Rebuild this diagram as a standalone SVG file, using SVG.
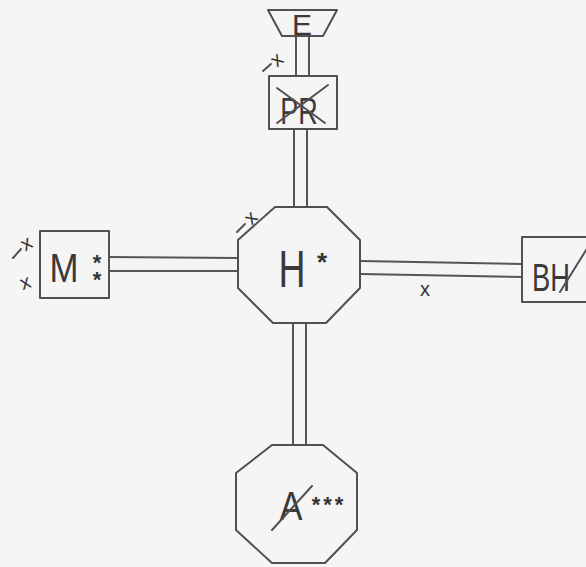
<svg xmlns="http://www.w3.org/2000/svg" width="586" height="567" viewBox="0 0 586 567">
<style>
.s{fill:none;stroke:#505050;stroke-width:2;stroke-linejoin:round;stroke-linecap:round}
.c{fill:none;stroke:#555;stroke-width:2}
.t{font-family:"Liberation Sans",Arial,sans-serif;fill:#3a3a3a;text-anchor:middle}
.x{font-family:"Liberation Sans",Arial,sans-serif;fill:#333;font-size:20px;text-anchor:middle}
.a{font-family:"Liberation Sans",Arial,sans-serif;fill:#333;font-weight:bold;text-anchor:middle}
</style>
<rect width="586" height="567" fill="#f5f5f5"/>
<g id="connectors">
  <line class="c" x1="296" y1="36" x2="296" y2="76"/>
  <line class="c" x1="309" y1="36" x2="309" y2="76"/>
  <line class="c" x1="294" y1="129" x2="294" y2="207"/>
  <line class="c" x1="307" y1="129" x2="307" y2="207"/>
  <line class="c" x1="293" y1="323" x2="293" y2="445"/>
  <line class="c" x1="306" y1="323" x2="306" y2="445"/>
  <line class="c" x1="109" y1="257" x2="238" y2="258"/>
  <line class="c" x1="109" y1="271" x2="238" y2="271"/>
  <line class="c" x1="361" y1="261" x2="522" y2="264"/>
  <line class="c" x1="361" y1="274" x2="522" y2="277"/>
  <line class="s" x1="263" y1="71" x2="271" y2="64"/>
  <text class="x" x="277" y="66" transform="rotate(-40 277 60)">x</text>
  <line class="s" x1="237" y1="232" x2="245" y2="224"/>
  <text class="x" x="251" y="224" transform="rotate(-45 251 218)">x</text>
  <text class="x" x="425" y="296">x</text>
</g>
<g id="E">
  <polygon class="s" points="268,10 337,10 323,36 282,36"/>
  <text class="t" x="302" y="35" font-size="30">E</text>
</g>
<g id="PR">
  <rect class="s" x="269" y="76" width="68" height="53"/>
  <text class="t" x="0" y="0" font-size="36" transform="translate(299,124) scale(0.75,1)">PR</text>
  <line class="s" x1="328" y1="85" x2="277" y2="123"/>
  <line class="s" x1="277" y1="88" x2="325" y2="123"/>
</g>
<g id="H">
  <polygon class="s" points="275,207 327,207 360,240 360,288 326,323 273,323 238,288 238,240"/>
  <text class="t" x="0" y="0" font-size="52" transform="translate(292,287) scale(0.72,1)">H</text>
  <text class="a" x="322" y="271" font-size="26">*</text>
</g>
<g id="M">
  <rect class="s" x="40" y="231" width="69" height="67"/>
  <text class="t" x="0" y="0" font-size="41" transform="translate(64,282) scale(0.85,1)">M</text>
  <text class="a" x="97" y="250" font-size="22" letter-spacing="-8" style="writing-mode:vertical-rl;text-orientation:upright;text-anchor:start">**</text>
  <line class="s" x1="13" y1="258" x2="21" y2="249"/>
  <text class="x" x="26" y="250" transform="rotate(-30 26 243)">x</text>
  <text class="x" x="25" y="289" transform="rotate(-20 25 282)">x</text>
</g>
<g id="BH">
  <rect class="s" x="522" y="237" width="80" height="65"/>
  <text class="t" x="0" y="0" font-size="38" transform="translate(551,291) scale(0.72,1)">BH</text>
  <line class="s" x1="588" y1="247" x2="560" y2="292"/>
</g>
<g id="A">
  <polygon class="s" points="272,445 323,445 357,473 357,530 325,563 272,563 236,530 236,473"/>
  <text class="t" x="0" y="0" font-size="40" transform="translate(291,520) scale(0.85,1)">A</text>
  <line class="s" x1="272" y1="530" x2="312" y2="486"/>
  <text class="a" x="329" y="512" font-size="22" letter-spacing="3">***</text>
</g>
</svg>
